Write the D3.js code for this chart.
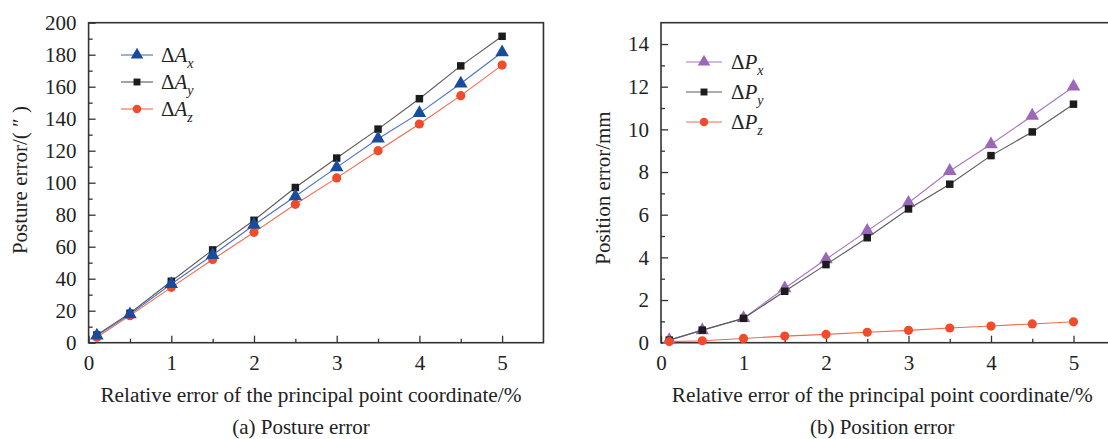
<!DOCTYPE html>
<html>
<head>
<meta charset="utf-8">
<script src="https://cdn.jsdelivr.net/npm/d3@7"></script>
<style>
  html, body { margin: 0; padding: 0; background: #fff; }
  svg { display: block; }
  text { font-family: "Liberation Serif", "Times New Roman", serif; fill: #222; }
</style>
</head>
<body>
<svg id="chart" width="1108" height="439"></svg>
<script>
// Relative error of the principal point coordinate (%)
const errorLevels = [0.1, 0.5, 1, 1.5, 2, 2.5, 3, 3.5, 4, 4.5, 5];

// (a) Posture error, arc-seconds
const postureAx = [4.4, 17.7, 36.7, 54.8, 73.6, 91.5, 109.6, 127.5, 143.5, 162, 181.5];
const postureAy = [4.8, 18.4, 38.4, 58, 76.5, 97, 115.4, 133.5, 152.5, 173, 191.5];
const postureAz = [3.4, 16.9, 34.6, 52, 69, 86.5, 103, 120, 136.7, 154.4, 173.5];

// (b) Position error, mm
const positionPx = [0.12, 0.58, 1.15, 2.55, 3.91, 5.24, 6.56, 8.05, 9.30, 10.64, 12.0];
const positionPy = [0.12, 0.59, 1.14, 2.41, 3.66, 4.92, 6.27, 7.43, 8.77, 9.88, 11.18];
const positionPz = [0.05, 0.09, 0.20, 0.31, 0.39, 0.49, 0.58, 0.69, 0.78, 0.88, 0.98];

// Axis ticks
const xTicks = [0, 1, 2, 3, 4, 5];
const xMinorTicks = [0.5, 1.5, 2.5, 3.5, 4.5];
const postureTicks = [0, 20, 40, 60, 80, 100, 120, 140, 160, 180, 200];
const postureMinor = [10, 30, 50, 70, 90, 110, 130, 150, 170, 190];
const positionTicks = [0, 2, 4, 6, 8, 10, 12, 14];
const positionMinor = [1, 3, 5, 7, 9, 11, 13];

const svg = d3.select("#chart");
svg.append("rect").attr("width", 1108).attr("height", 439).attr("fill", "#fff");

const FONT = 21;
const AXIS = "#333";

function sub(textSel, parts) {
  parts.forEach(p => {
    const ts = textSel.append("tspan").text(p.t);
    if (p.italic) ts.attr("font-style", "italic");
    if (p.sub) ts.attr("font-size", 14).attr("dy", 6);
  });
}

function panel(cfg) {
  const g = svg.append("g");
  const x = d3.scaleLinear().domain([0, 5.5]).range([cfg.left, cfg.left + cfg.xUnit * 5.5]);
  const y = d3.scaleLinear().domain([0, cfg.yMax]).range([cfg.bottom, cfg.top]);

  // frame
  g.append("rect")
    .attr("x", cfg.left).attr("y", cfg.top)
    .attr("width", x(5.5) - cfg.left).attr("height", cfg.bottom - cfg.top)
    .attr("fill", "none").attr("stroke", AXIS).attr("stroke-width", 1.6);

  // axes, ticks pointing inward
  const xa = g.append("g").attr("transform", `translate(0,${cfg.bottom})`)
    .call(d3.axisBottom(x).tickValues(xTicks).tickSize(-7).tickPadding(12).tickFormat(d3.format("d")));
  const xm = g.append("g").attr("transform", `translate(0,${cfg.bottom})`)
    .call(d3.axisBottom(x).tickValues(xMinorTicks).tickSize(-4).tickFormat(""));
  const ya = g.append("g").attr("transform", `translate(${cfg.left},0)`)
    .call(d3.axisLeft(y).tickValues(cfg.yTicks).tickSize(-7).tickPadding(12).tickFormat(d3.format("d")));
  const ym = g.append("g").attr("transform", `translate(${cfg.left},0)`)
    .call(d3.axisLeft(y).tickValues(cfg.yMinor).tickSize(-4).tickFormat(""));
  [xa, xm, ya, ym].forEach(a => {
    a.attr("font-family", null).attr("font-size", null);
    a.select(".domain").remove();
    a.selectAll(".tick line").attr("stroke", AXIS).attr("stroke-width", 1.3);
    a.selectAll(".tick text").attr("font-size", FONT).attr("fill", "#222");
  });

  // series, in drawing order
  cfg.drawOrder.forEach(k => {
    const s = cfg.series[k];
    const pts = errorLevels.map((v, i) => [v, s.values[i]]);
    g.append("path").datum(pts)
      .attr("fill", "none").attr("stroke", s.line).attr("stroke-width", 1.1)
      .attr("d", d3.line().x(d => x(d[0])).y(d => y(d[1])));
    g.append("g").selectAll("path").data(pts).join("path")
      .attr("transform", d => `translate(${x(d[0])},${y(d[1])})`)
      .attr("d", d3.symbol().type(s.symbol).size(s.size))
      .attr("fill", s.fill);
  });

  // legend
  cfg.series.forEach((s, i) => {
    const ly = cfg.legendY + i * cfg.legendStep;
    g.append("line").attr("x1", cfg.legendX).attr("x2", cfg.legendX + cfg.legendLen)
      .attr("y1", ly).attr("y2", ly).attr("stroke", s.line).attr("stroke-width", 1.1);
    g.append("path").attr("transform", `translate(${cfg.legendX + cfg.legendLen / 2},${ly})`)
      .attr("d", d3.symbol().type(s.symbol).size(s.size * 0.85)).attr("fill", s.fill);
    const t = g.append("text").attr("x", cfg.legendX + cfg.legendLen + cfg.legendGap)
      .attr("y", ly + 7).attr("font-size", FONT);
    sub(t, [{ t: "Δ" }, { t: s.letter, italic: true }, { t: s.axis, italic: true, sub: true }]);
  });

  // titles
  const cx = cfg.left + 5 * cfg.xUnit / 2 + cfg.labelShift;
  g.append("text").attr("x", cx).attr("y", 402).attr("text-anchor", "middle")
    .attr("font-size", 21.3).text("Relative error of the principal point coordinate/%");
  g.append("text").attr("x", cx + cfg.captionShift).attr("y", 434).attr("text-anchor", "middle")
    .attr("font-size", FONT).text(cfg.caption);
  g.append("text")
    .attr("transform", `translate(${cfg.yTitleX},${cfg.yTitleY}) rotate(-90)`)
    .attr("text-anchor", "middle").attr("font-size", FONT).text(cfg.yTitle);
}

panel({
  left: 88.6, xUnit: 82.7, top: 22.7, bottom: 342.7, yMax: 200,
  yTicks: postureTicks, yMinor: postureMinor,
  caption: "(a) Posture error", yTitle: "Posture error/( \u2033 )",
  yTitleX: 27, yTitleY: 180, labelShift: 15.6, captionShift: -10,
  legendX: 121, legendY: 55, legendStep: 27, legendLen: 32, legendGap: 8,
  drawOrder: [1, 2, 0],
  series: [
    { letter: "A", axis: "x", values: postureAx, symbol: d3.symbolTriangle, size: 80, fill: "#1a4c9e", line: "#4a72c2" },
    { letter: "A", axis: "y", values: postureAy, symbol: d3.symbolSquare, size: 56, fill: "#1c1c1c", line: "#5a5a5a" },
    { letter: "A", axis: "z", values: postureAz, symbol: d3.symbolCircle, size: 66, fill: "#f04b2a", line: "#f26a4c" }
  ]
});

panel({
  left: 661, xUnit: 82.5, top: 22.7, bottom: 342.7, yMax: 15,
  yTicks: positionTicks, yMinor: positionMinor,
  caption: "(b) Position error", yTitle: "Position error/mm",
  yTitleX: 610, yTitleY: 188, labelShift: 15, captionShift: 0,
  legendX: 686, legendY: 62, legendStep: 30, legendLen: 36, legendGap: 9,
  drawOrder: [0, 1, 2],
  series: [
    { letter: "P", axis: "x", values: positionPx, symbol: d3.symbolTriangle, size: 80, fill: "#9b68b8", line: "#a676c4" },
    { letter: "P", axis: "y", values: positionPy, symbol: d3.symbolSquare, size: 56, fill: "#1c1c1c", line: "#5a5a5a" },
    { letter: "P", axis: "z", values: positionPz, symbol: d3.symbolCircle, size: 66, fill: "#f04b2a", line: "#f26a4c" }
  ]
});
</script>
</body>
</html>
